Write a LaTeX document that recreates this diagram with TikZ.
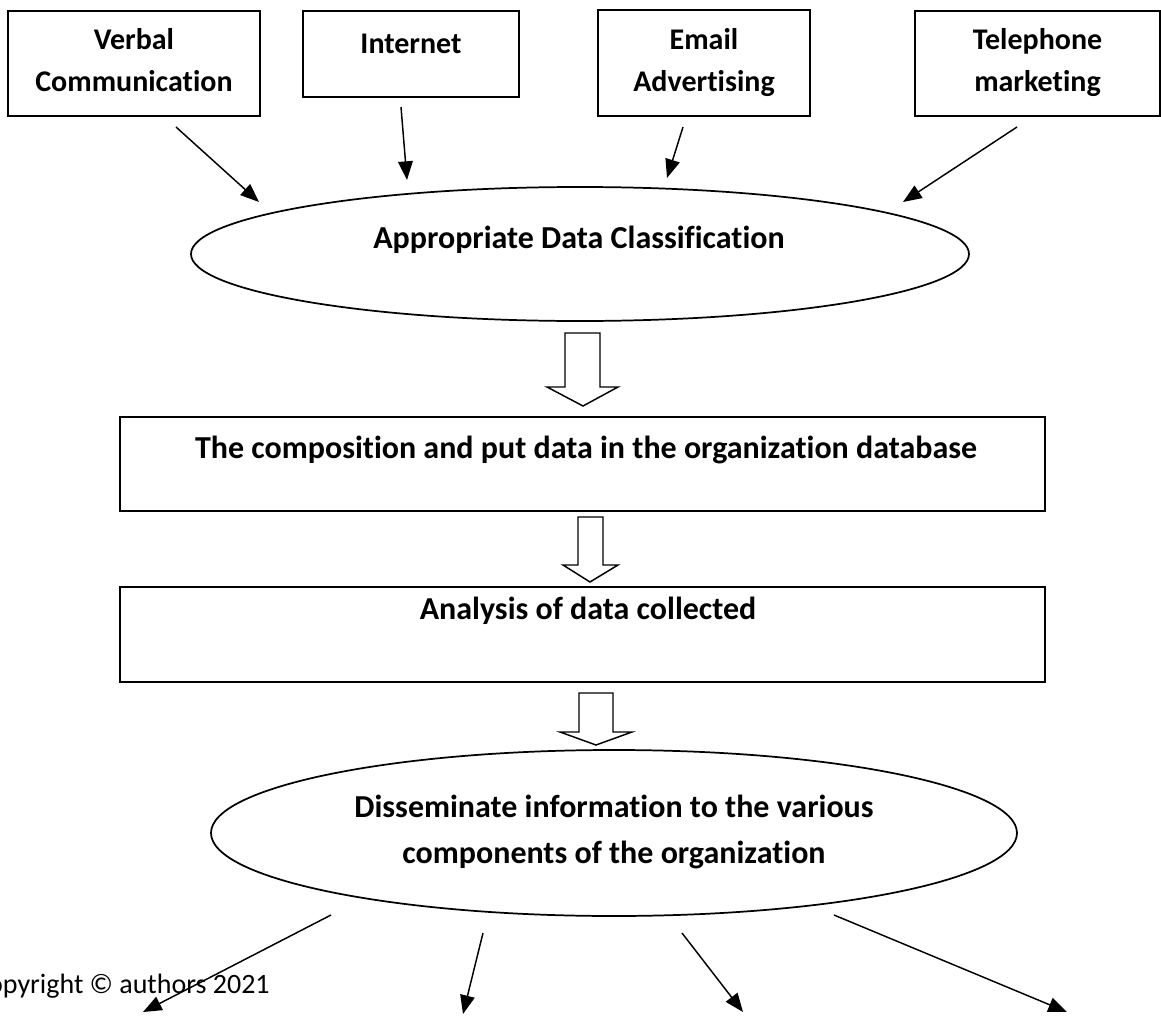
\documentclass[tikz,border=0pt]{standalone}
\usepackage{fontspec}
\setmainfont{Carlito}[Ligatures=NoCommon]
\usetikzlibrary{arrows.meta,shapes.geometric}
\begin{document}
\begin{tikzpicture}[x=0.75pt,y=-0.75pt,
  srcbox/.style={draw,line width=1.5pt,inner sep=0pt},
  stagebox/.style={draw,line width=1.4pt,inner sep=0pt},
  oval/.style={draw,ellipse,line width=1.3pt,inner sep=0pt},
  lbl/.style={font=\bfseries\fontsize{22.5}{27}\selectfont,anchor=base,inner sep=0pt},
  biglbl/.style={font=\bfseries\fontsize{24}{29}\selectfont,anchor=base,inner sep=0pt},
  note/.style={font=\fontsize{21}{25}\selectfont,anchor=base east,inner sep=0pt},
  conn/.style={line width=1.1pt,-{Triangle[length=14pt,width=11pt]}},
  blockarrow/.style={draw,line width=1.1pt,fill=white,line join=miter}]
\useasboundingbox (0,0) rectangle (1161,1017);

% source boxes
\node[srcbox,minimum width=189pt,minimum height=78.75pt] (verbal) at (134,63.5) {};
\node[srcbox,minimum width=162pt,minimum height=64.5pt] (internet) at (411,54) {};
\node[srcbox,minimum width=159pt,minimum height=79.5pt] (email) at (704,63) {};
\node[srcbox,minimum width=183.75pt,minimum height=78.75pt] (phone) at (1037.5,63.5) {};

\node[lbl] (verbalA) at (134,50) {Verbal};
\node[lbl] (verbalB) at (134,91) {Communication};
\node[lbl] (internetA) at (411,53) {Internet};
\node[lbl] (emailA) at (704,50) {Email};
\node[lbl] (emailB) at (704,91) {Advertising};
\node[lbl] (phoneA) at (1037.5,50) {Telephone};
\node[lbl] (phoneB) at (1037.5,91) {marketing};

% classification
\node[oval,minimum width=583.5pt,minimum height=100.5pt] (classify) at (580,254) {};
\node[biglbl] (classifyA) at (579,248) {Appropriate Data Classification};

% storage and analysis
\node[stagebox,minimum width=693.75pt,minimum height=70.5pt] (store) at (582.5,464) {};
\node[biglbl] (storeA) at (586,458) {The composition and put data in the organization database};
\node[stagebox,minimum width=693.75pt,minimum height=71.25pt] (analyse) at (582.5,634.5) {};
\node[biglbl] (analyseA) at (588,619) {Analysis of data collected};

% dissemination
\node[oval,minimum width=604.5pt,minimum height=124.5pt] (spread) at (614,833) {};
\node[biglbl] (spreadA) at (614,817) {Disseminate information to the various};
\node[biglbl] (spreadB) at (614,863) {components of the organization};

\node[note] (copy) at (270,993) {Copyright \textcopyright{} authors 2021};

% hollow block arrows between stages
\draw[blockarrow] (565,333) -- (600,333) -- (600,387) -- (618,387) -- (583,406) -- (547,387) -- (565,387) -- cycle;
\draw[blockarrow] (578,517) -- (603,517) -- (603,565) -- (618,565) -- (590,582) -- (563,565) -- (578,565) -- cycle;
\draw[blockarrow] (579,693) -- (613,693) -- (613,732) -- (632,732) -- (596,745) -- (560,732) -- (579,732) -- cycle;

% connector end points
\coordinate (v1) at (176,127);  \coordinate (v2) at (259,202);
\coordinate (i1) at (401,107);  \coordinate (i2) at (407,180);
\coordinate (e1) at (683,127);  \coordinate (e2) at (667,178);
\coordinate (t1) at (1017,127); \coordinate (t2) at (903,202);
\coordinate (o1s) at (331,915); \coordinate (o1e) at (143,1012);
\coordinate (o2s) at (483,933); \coordinate (o2e) at (463,1014);
\coordinate (o3s) at (682,933); \coordinate (o3e) at (743,1012);
\coordinate (o4s) at (834,915); \coordinate (o4e) at (1067,1012);

\draw[conn] (v1) -- (v2);
\draw[conn] (i1) -- (i2);
\draw[conn] (e1) -- (e2);
\draw[conn] (t1) -- (t2);
\draw[conn] (o1s) -- (o1e);
\draw[conn] (o2s) -- (o2e);
\draw[conn] (o3s) -- (o3e);
\draw[conn] (o4s) -- (o4e);
\end{tikzpicture}
\end{document}
